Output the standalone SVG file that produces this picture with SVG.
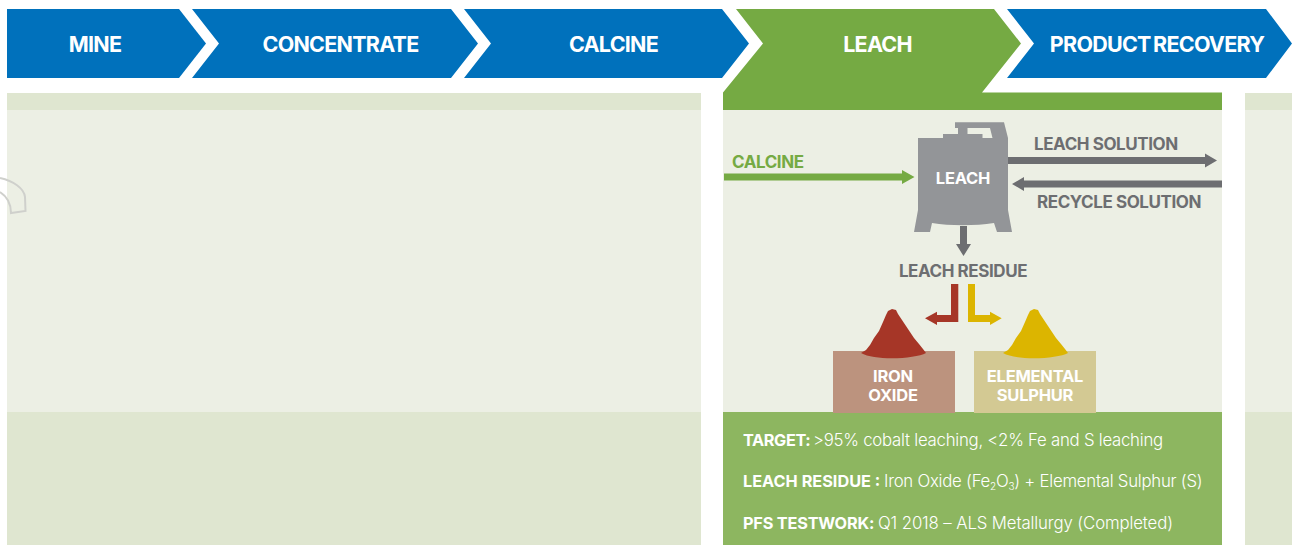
<svg xmlns="http://www.w3.org/2000/svg" width="1292" height="545" viewBox="0 0 1292 545">
<style>
text{font-family:"Inter","Liberation Sans",sans-serif;font-weight:700}
.h{font-size:21.500px;fill:#fff;text-anchor:middle;letter-spacing:-.75px}
.g{font-size:17px;fill:#6d6e71;letter-spacing:-.42px}
.w{font-size:16.500px;fill:#fff;text-anchor:middle;letter-spacing:-.25px}
.b{font-size:16.300px;fill:#fff;letter-spacing:-.4px}
.l{font-size:16.800px;font-weight:300;letter-spacing:-.25px}
.s{font-size:10px;font-weight:300}
.blue{fill:#0071bc}
</style>
<rect width="1292" height="545" fill="#fff"/>
<g id="panels">
<rect x="7" y="93" width="694" height="452" fill="#ecefe4"/>
<rect x="7" y="93" width="694" height="17" fill="#dfe6d0"/>
<rect x="7" y="412" width="694" height="133" fill="#dfe6d0"/>
<rect x="1245" y="93" width="47" height="452" fill="#ecefe4"/>
<rect x="1245" y="93" width="47" height="17" fill="#dfe6d0"/>
<rect x="1245" y="412" width="47" height="133" fill="#dfe6d0"/>
<rect x="723" y="110" width="499" height="302" fill="#ecefe4"/>
<rect x="723" y="412" width="499" height="133" fill="#8db660"/>
<path d="M0 178C13 181 24 188 25 197L25.500 211 11 213C11 204 8 197 0 192" fill="none" stroke="#cfd0cc" stroke-width="2"/>
</g>
<g id="step-mine"><path class="blue" d="M7 9H179L206 43.500 179 78H7Z"/><text class="h" x="95" y="52">MINE</text></g>
<g id="step-concentrate"><path class="blue" d="M192 9H451L478 43.500 451 78H192L219 43.500Z"/><text class="h" x="340.500" y="52">CONCENTRATE</text></g>
<g id="step-calcine"><path class="blue" d="M464 9H722L749 43.500 722 78H464L491 43.500Z"/><text class="h" x="613.500" y="52">CALCINE</text></g>
<g id="step-leach"><path fill="#75aa43" d="M736 9H994L1021 43.500 982 92.500H1222V110H723V92.500L763 43.500Z"/><text class="h" x="877.500" y="52">LEACH</text></g>
<g id="step-product"><path class="blue" d="M1007 9H1266L1292 43.500 1266 78H1007L1034 43.500Z"/><text class="h" x="1157" y="52" word-spacing="-2">PRODUCT RECOVERY</text></g>
<g id="connectors">
<path fill="#75aa43" d="M724 173.500H902V170L914.500 177 902 184V180.500H724Z"/>
<path fill="#6d6e71" d="M1008 157H1205V153.500L1217 160.500 1205 167.500V164H1008Z"/>
<path fill="#6d6e71" d="M1222 180.500H1024V177L1012 184 1024 191V187.500H1222Z"/>
<path fill="#6d6e71" d="M960 226H967V244H971L963.500 256 956 244H960Z"/>
<path fill="#a63627" d="M951 284H958.300V322H937V325L925 318.300 937 311.700V315H951Z"/>
<path fill="#dcb500" d="M968 284H975V315H990V311.700L1001.700 318.300 990 325V322H968Z"/>
</g>
<g id="leach-tank">
<path fill="#939598" d="M955 122.300H1004L1008 138V210L1012 232H997L994 223C975 226 950 226 932 223L930 232H914L918 210V138H943V134H958V128H955Z"/>
<path fill="#ecefe4" d="M967.500 128H990L992.500 138H982.500V134H967.500Z"/>
<text x="963" y="184" class="w">LEACH</text>
</g>
<g id="labels">
<text class="g" x="732" y="168" style="fill:#75aa43">CALCINE</text>
<text class="g" x="1034" y="150">LEACH SOLUTION</text>
<text class="g" x="1037" y="208">RECYCLE SOLUTION</text>
<text class="g" x="963" y="277" text-anchor="middle">LEACH RESIDUE</text>
</g>
<g id="iron-oxide">
<rect x="833" y="351" width="122" height="62" fill="#bc937e"/>
<path fill="#a63627" d="M861 353L866 350 870 345 874 338 879 331 883 322 886 315 888 311 892 309 896 310 898 314 902 320 906 326 910 332 914 338 919 344 923 349 926 353C915 359 875 361 861 353Z"/>
<text class="w" x="893" y="382">IRON</text><text class="w" x="893" y="401">OXIDE</text>
</g>
<g id="elemental-sulphur">
<rect x="974" y="351" width="122" height="62" fill="#d3c993"/>
<path fill="#dcb500" d="M1003 353L1008 350 1012 345 1016 338 1021 331 1025 322 1028 315 1030 311 1034 309 1038 310 1040 314 1044 320 1048 326 1052 332 1056 338 1061 344 1065 349 1068 353C1057 359 1017 361 1003 353Z"/>
<text class="w" x="1035" y="382">ELEMENTAL</text><text class="w" x="1035" y="401">SULPHUR</text>
</g>
<g id="notes">
<text class="b" x="743" y="446">TARGET:<tspan class="l" x="813">&gt;95% cobalt leaching, &lt;2% Fe and S leaching</tspan></text>
<text class="b" x="743" y="487" style="letter-spacing:0">LEACH RESIDUE :<tspan class="l" x="884">Iron Oxide (Fe<tspan class="s" dy="3">2</tspan><tspan dy="-3">O</tspan><tspan class="s" dy="3">3</tspan><tspan dy="-3">) + Elemental Sulphur (S)</tspan></tspan></text>
<text class="b" x="743" y="529" style="letter-spacing:-.2px">PFS TESTWORK:<tspan class="l" x="878" style="letter-spacing:-.12px">Q1 2018 – ALS Metallurgy (Completed)</tspan></text>
</g>
</svg>
